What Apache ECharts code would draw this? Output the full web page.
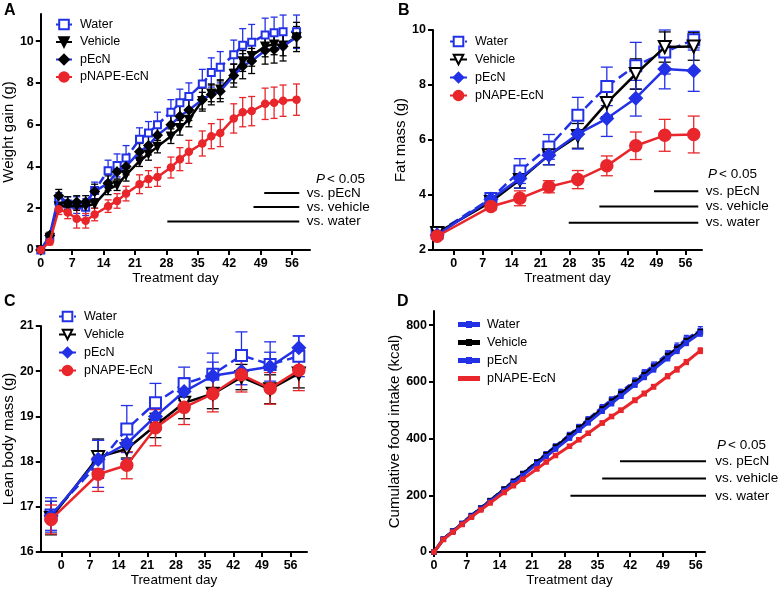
<!DOCTYPE html>
<html><head><meta charset="utf-8">
<script src="https://cdn.jsdelivr.net/npm/echarts@6/dist/echarts.min.js"></script>
<style>html,body{margin:0;padding:0;background:#fff}#c{width:784px;height:590px}</style>
</head><body><div id="c"></div>
<script>
// ---------------- DATA ----------------
const groups = ['Water', 'Vehicle', 'pEcN', 'pNAPE-EcN'];
const xTicks = [0, 7, 14, 21, 28, 35, 42, 49, 56];
const yTicksA = [0, 2, 4, 6, 8, 10];
const yTicksB = [2, 4, 6, 8, 10];
const yTicksC = [16, 17, 18, 19, 20, 21];
const yTicksD = [0, 200, 400, 600, 800];

// Panel A: weight gain (g)
const daysA = [0, 2, 4, 6, 8, 10, 12, 15, 17, 19, 22, 24, 26, 29, 31, 33, 36, 38, 40, 43, 45, 47, 50, 52, 54, 57];
const weightWater = [0, 0.6, 2.35, 2.2, 2.15, 2.05, 2.85, 3.8, 4.05, 4.4, 5.3, 5.6, 6.0, 6.6, 7.05, 7.35, 7.95, 8.5, 8.75, 9.35, 9.8, 9.95, 10.3, 10.4, 10.45, 10.45];
const weightWaterErr = [0, 0.2, 0.4, 0.35, 0.4, 0.4, 0.4, 0.5, 0.55, 0.6, 0.55, 0.55, 0.6, 0.6, 0.65, 0.65, 0.7, 0.7, 0.75, 0.7, 0.8, 0.85, 0.8, 0.75, 0.8, 0.8];
const weightVehicle = [0, 0.6, 2.1, 2.1, 2.1, 2.1, 2.2, 2.9, 3.1, 3.6, 4.25, 4.6, 4.95, 5.45, 5.85, 6.25, 7.15, 7.5, 7.7, 8.45, 9.05, 9.3, 9.75, 9.85, 9.8, 10.2];
const weightVehicleErr = [0, 0.15, 0.25, 0.2, 0.2, 0.2, 0.2, 0.25, 0.25, 0.3, 0.25, 0.3, 0.3, 0.35, 0.35, 0.35, 0.4, 0.4, 0.45, 0.45, 0.5, 0.5, 0.5, 0.5, 0.5, 0.5];
const weightPEcN = [0, 0.7, 2.6, 2.25, 2.3, 2.3, 2.8, 3.2, 3.75, 4.0, 4.7, 5.0, 5.5, 6.0, 6.4, 6.7, 7.2, 7.45, 7.6, 8.35, 8.8, 9.05, 9.55, 9.6, 9.75, 10.2];
const weightPEcNErr = [0, 0.15, 0.3, 0.3, 0.3, 0.3, 0.35, 0.35, 0.35, 0.4, 0.4, 0.45, 0.45, 0.5, 0.5, 0.5, 0.55, 0.5, 0.5, 0.55, 0.6, 0.6, 0.65, 0.65, 0.7, 0.7];
const weightNape = [0, 0.4, 1.95, 1.8, 1.5, 1.4, 1.7, 2.1, 2.35, 2.7, 3.15, 3.4, 3.5, 3.95, 4.35, 4.7, 5.1, 5.45, 5.6, 6.3, 6.6, 6.65, 7.0, 7.05, 7.15, 7.2];
const weightNapeErr = [0, 0.15, 0.25, 0.3, 0.45, 0.35, 0.3, 0.3, 0.35, 0.35, 0.45, 0.4, 0.45, 0.5, 0.55, 0.55, 0.6, 0.6, 0.65, 0.7, 0.7, 0.7, 0.75, 0.75, 0.75, 0.75];

// Panel B: fat mass (g)
const daysB = [-4, 9, 16, 23, 30, 37, 44, 51, 58];
const fatWater = [2.62, 3.87, 4.87, 5.75, 6.9, 7.95, 8.7, 9.2, 9.65];
const fatWaterErr = [0.1, 0.2, 0.45, 0.45, 0.65, 0.7, 0.85, 0.8, 0.3];
const fatVehicle = [2.62, 3.75, 4.55, 5.45, 6.15, 7.35, 8.4, 9.38, 9.4];
const fatVehicleErr = [0.1, 0.15, 0.3, 0.35, 0.45, 0.5, 0.55, 0.55, 0.5];
const fatPEcN = [2.55, 3.85, 4.6, 5.45, 6.22, 6.78, 7.52, 8.58, 8.52];
const fatPEcNErr = [0.1, 0.2, 0.35, 0.35, 0.55, 0.65, 0.65, 0.72, 0.75];
const fatNape = [2.5, 3.58, 3.88, 4.3, 4.56, 5.06, 5.79, 6.17, 6.2];
const fatNapeErr = [0.08, 0.12, 0.27, 0.22, 0.33, 0.36, 0.5, 0.58, 0.67];

// Panel C: lean body mass (g)
const daysC = [-2.5, 9, 16, 23, 30, 37, 44, 51, 58];
const leanWater = [16.82, 17.95, 18.72, 19.3, 19.72, 19.93, 20.35, 20.15, 20.33];
const leanWaterErr = [0.38, 0.52, 0.52, 0.43, 0.37, 0.47, 0.52, 0.5, 0.45];
const leanVehicle = [16.75, 18.1, 18.28, 18.8, 19.3, 19.5, 19.87, 19.6, 19.95];
const leanVehicleErr = [0.37, 0.4, 0.2, 0.27, 0.35, 0.33, 0.28, 0.32, 0.32];
const leanPEcN = [16.8, 18.05, 18.4, 19.0, 19.55, 19.9, 20.0, 20.1, 20.52];
const leanPEcNErr = [0.32, 0.42, 0.35, 0.3, 0.3, 0.3, 0.3, 0.32, 0.26];
const leanNape = [16.72, 17.72, 17.92, 18.75, 19.2, 19.5, 19.92, 19.62, 20.02];
const leanNapeErr = [0.32, 0.38, 0.3, 0.4, 0.38, 0.4, 0.38, 0.35, 0.45];

// Panel D: cumulative food intake (kcal)
const daysD = [0, 2, 4, 6, 8, 10, 12, 15, 17, 19, 22, 24, 26, 29, 31, 33, 36, 38, 40, 43, 45, 47, 50, 52, 54, 57];
const foodWater = [0, 46, 74, 101, 129, 155, 182, 222, 250, 277, 318, 346, 373, 413, 441, 468, 510, 537, 563, 603, 631, 658, 698, 724, 751, 781];
const foodWaterErr = [0, 3, 4, 4, 5, 5, 5, 6, 6, 7, 7, 8, 8, 9, 9, 9, 10, 10, 11, 11, 12, 12, 12, 13, 13, 14];
const foodVehicle = [0, 45, 73, 100, 128, 154, 181, 221, 248, 275, 316, 343, 370, 410, 437, 464, 505, 532, 558, 598, 625, 652, 692, 718, 745, 777];
const foodVehicleErr = [0, 2, 3, 3, 3, 4, 4, 4, 5, 5, 5, 6, 6, 6, 7, 7, 7, 7, 8, 8, 8, 9, 9, 9, 10, 10];
const foodPEcN = [0, 45, 72, 99, 126, 152, 178, 217, 244, 270, 310, 337, 363, 402, 429, 456, 497, 524, 550, 590, 617, 644, 684, 710, 738, 772];
const foodPEcNErr = [0, 2, 3, 3, 4, 4, 4, 5, 5, 5, 6, 6, 6, 7, 7, 7, 8, 8, 8, 9, 9, 9, 10, 10, 10, 11];
const foodNape = [0, 44, 70, 97, 123, 148, 173, 210, 234, 257, 293, 317, 340, 373, 396, 419, 455, 478, 500, 535, 559, 583, 620, 644, 670, 710];
const foodNapeErr = [0, 2, 3, 3, 3, 4, 4, 4, 5, 5, 5, 5, 6, 6, 6, 6, 7, 7, 7, 8, 8, 8, 9, 9, 9, 10];

// significance bars (P < 0.05)
const sigLabels = ['vs. pEcN', 'vs. vehicle', 'vs. water'];
const sigStartA = [49.8, 47.4, 28.2], sigEndA = 57.6, sigLevelA = [2.73, 2.06, 1.37];
const sigStartB = [48.4, 35.2, 27.8], sigEndB = 59.1, sigLevelB = [4.14, 3.58, 2.99];
const sigStartD = [39.8, 36.0, 29.2], sigEndD = 58.6, sigLevelD = [320, 259, 198];

// ---------------- STYLE / LAYOUT ----------------
const FONT = '"Liberation Sans", Arial, Helvetica, sans-serif';
const BLUE = '#2231e6', RED = '#e8262b', BLACK = '#000000';

const panels = [
  { key: 'A', grid: { left: 39, top: 14, width: 271, height: 236 }, x: [0, 60], y: [0, 11.3], yTicks: yTicksA,
    yName: 'Weight gain (g)', yGap: 15, xGap: 19, days: daysA,
    vals: [weightWater, weightVehicle, weightPEcN, weightNape], errs: [weightWaterErr, weightVehicleErr, weightPEcNErr, weightNapeErr],
    styles: [
      { symbol: 'emptyRect', size: 7, color: BLUE, line: BLUE, dash: [8, 4], width: 2.5, err: BLUE },
      { symbol: 'triangle', rotate: 180, size: 8, color: BLACK, line: BLACK, width: 2.5, err: BLACK },
      { symbol: 'diamond', size: 9, color: BLACK, line: BLUE, width: 2.5, err: BLACK },
      { symbol: 'circle', size: 7, color: RED, line: RED, width: 2.5, err: RED }],
    cap: 7, errW: 1.3,
    legend: { left: 55, top: 18, gap: 4.5, w: 16 },
    sig: { start: sigStartA, end: sigEndA, level: sigLevelA, p: [316, 172] } },
  { key: 'B', grid: { left: 433, top: 30, width: 269, height: 220 }, x: [-5, 60], y: [2, 10], yTicks: yTicksB,
    yName: 'Fat mass (g)', yGap: 21, xGap: 19, days: daysB,
    vals: [fatWater, fatVehicle, fatPEcN, fatNape], errs: [fatWaterErr, fatVehicleErr, fatPEcNErr, fatNapeErr],
    styles: [
      { symbol: 'emptyRect', size: 11, color: BLUE, line: BLUE, dash: [10, 5], width: 2.5, err: BLUE },
      { symbol: 'emptyTriangle', rotate: 180, size: 12, color: BLACK, line: BLACK, width: 2.5, err: BLACK },
      { symbol: 'diamond', size: 13, color: BLUE, line: BLUE, width: 2.5, err: BLUE },
      { symbol: 'circle', size: 12, color: RED, line: RED, width: 2.5, err: RED }],
    cap: 12, errW: 1.3,
    legend: { left: 449, top: 35, gap: 5, w: 17 },
    sig: { start: sigStartB, end: sigEndB, level: sigLevelB, p: [708, 167] } },
  { key: 'C', grid: { left: 40, top: 326, width: 267, height: 226 }, x: [-5, 60], y: [16, 21], yTicks: yTicksC,
    yName: 'Lean body mass (g)', yGap: 15, xGap: 20, days: daysC,
    vals: [leanWater, leanVehicle, leanPEcN, leanNape], errs: [leanWaterErr, leanVehicleErr, leanPEcNErr, leanNapeErr],
    styles: [
      { symbol: 'emptyRect', size: 11, color: BLUE, line: BLUE, dash: [10, 5], width: 2.5, err: BLUE },
      { symbol: 'emptyTriangle', rotate: 180, size: 12, color: BLACK, line: BLACK, width: 2.5, err: BLACK },
      { symbol: 'diamond', size: 13, color: BLUE, line: BLUE, width: 2.5, err: BLUE },
      { symbol: 'circle', size: 12, color: RED, line: RED, width: 2.5, err: RED }],
    cap: 12, errW: 1.3,
    legend: { left: 58, top: 310, gap: 5, w: 17 },
    sig: null },
  { key: 'D', grid: { left: 434, top: 311, width: 271, height: 241 }, x: [0, 58], y: [0, 850], yTicks: yTicksD,
    yName: 'Cumulative food intake (kcal)', yGap: 27, xGap: 21, days: daysD,
    vals: [foodWater, foodVehicle, foodPEcN, foodNape], errs: [foodWaterErr, foodVehicleErr, foodPEcNErr, foodNapeErr],
    styles: [
      { symbol: 'rect', size: 4, color: BLUE, line: BLUE, dash: [6, 3], width: 3, err: BLUE,
        icon: 'path://M0,5h6v3h-6z M8,4h4v5h-4z M14,5h6v3h-6z' },
      { symbol: 'rect', size: 4, color: BLACK, line: BLACK, width: 3, err: BLACK,
        icon: 'path://M0,5h8v3h-8z M8,4h4v5h-4z M12,5h8v3h-8z' },
      { symbol: 'rect', size: 4, color: BLUE, line: BLUE, width: 3, err: BLUE,
        icon: 'path://M0,5h8v3h-8z M8,4h4v5h-4z M12,5h8v3h-8z' },
      { symbol: 'rect', size: 4, color: RED, line: RED, width: 3, err: RED,
        icon: 'path://M0,5h20v3h-20z' }],
    cap: 5, errW: 1.2,
    legend: { left: 458, top: 318, gap: 5, w: 20 },
    sig: { start: sigStartD, end: sigEndD, level: sigLevelD, p: [717, 438] } }
];

// ---------------- BUILD OPTION ----------------
const grids = [], xAxes = [], yAxes = [], series = [], legends = [], graphics = [];

function errRenderer(color, cap, w) {
  return function (params, api) {
    const x = api.value(0), y = api.value(1), e = api.value(2);
    const t = api.coord([x, y + e]), b = api.coord([x, y - e]);
    const h = cap / 2;
    const st = { stroke: color, lineWidth: w };
    return { type: 'group', children: [
      { type: 'line', shape: { x1: t[0], y1: t[1], x2: b[0], y2: b[1] }, style: st },
      { type: 'line', shape: { x1: t[0] - h, y1: t[1], x2: t[0] + h, y2: t[1] }, style: st },
      { type: 'line', shape: { x1: b[0] - h, y1: b[1], x2: b[0] + h, y2: b[1] }, style: st }
    ] };
  };
}

panels.forEach((p, pi) => {
  grids.push(Object.assign({ containLabel: false }, p.grid));
  const axisCommon = {
    axisLine: { show: true, onZero: false, lineStyle: { color: BLACK, width: 2 } },
    axisTick: { show: true, length: 5, lineStyle: { color: BLACK, width: 2 } },
    axisLabel: { color: BLACK, fontWeight: 'bold', fontSize: 12.5, fontFamily: FONT, margin: 7 },
    splitLine: { show: false }
  };
  xAxes.push(echarts.util.merge({
    type: 'value', gridIndex: pi, min: p.x[0], max: p.x[1],
    name: 'Treatment day', nameLocation: 'middle', nameGap: p.xGap,
    nameTextStyle: { color: BLACK, fontSize: 13.5, fontFamily: FONT },
    axisTick: { customValues: xTicks }, axisLabel: { customValues: xTicks }
  }, axisCommon, false));
  yAxes.push(echarts.util.merge({
    type: 'value', gridIndex: pi, min: p.y[0], max: p.y[1],
    name: p.yName, nameLocation: 'middle', nameGap: p.yGap,
    nameTextStyle: { color: BLACK, fontSize: 15, fontFamily: FONT },
    axisTick: { customValues: p.yTicks }, axisLabel: { customValues: p.yTicks }
  }, axisCommon, false));

  const legendData = [];
  groups.forEach((g, gi) => {
    const s = p.styles[gi];
    const name = p.key + '|' + g;
    legendData.push(s.icon ? { name: name, icon: s.icon } : name);
    series.push({
      type: 'custom', xAxisIndex: pi, yAxisIndex: pi, silent: true, z: 2,
      renderItem: errRenderer(s.err, p.cap, p.errW),
      encode: { x: 0, y: 1 },
      data: p.days.map((d, i) => [d, p.vals[gi][i], p.errs[gi][i]])
    });
    series.push({
      name: name, type: 'line', xAxisIndex: pi, yAxisIndex: pi, z: 3 + gi,
      data: p.days.map((d, i) => [d, p.vals[gi][i]]),
      symbol: s.symbol, symbolSize: s.size, symbolRotate: s.rotate || 0, showAllSymbol: true,
      lineStyle: { color: s.line, width: s.width, type: s.dash || 'solid' },
      itemStyle: { color: s.color, borderColor: s.color, borderWidth: 1.5 },
      emphasis: { disabled: true }, animation: false
    });
  });
  legends.push({
    data: legendData, orient: 'vertical', left: p.legend.left, top: p.legend.top, padding: 0,
    itemGap: p.legend.gap, itemWidth: p.legend.w, itemHeight: 12, selectedMode: false,
    formatter: n => n.split('|')[1],
    textStyle: { color: BLACK, fontSize: 12.5, fontFamily: FONT, padding: [0, 0, 0, 3] }
  });

  if (p.sig) {
    sigLabels.forEach((lab, k) => {
      series.push({
        type: 'line', xAxisIndex: pi, yAxisIndex: pi, silent: true, z: 10,
        data: [[p.sig.start[k], p.sig.level[k]],
               { value: [p.sig.end, p.sig.level[k]],
                 label: { show: true, position: 'right', distance: 7, formatter: lab,
                          color: BLACK, fontSize: 13.5, fontFamily: FONT } }],
        symbol: 'circle', symbolSize: 1, itemStyle: { color: 'rgba(0,0,0,0)' },
        lineStyle: { color: BLACK, width: 2 }, clip: false, animation: false
      });
    });
    graphics.push({ type: 'group', left: p.sig.p[0], top: p.sig.p[1], children: [
      { type: 'text', x: 0, y: 0, style: { text: 'P', font: 'italic 13.5px ' + FONT, fill: BLACK } },
      { type: 'text', x: 11, y: 0, style: { text: '< 0.05', font: '13.5px ' + FONT, fill: BLACK } }
    ] });
  }
});

const letterPos = { A: [4, 3], B: [398, 3], C: [4, 294], D: [397, 294] };
Object.keys(letterPos).forEach(k => {
  graphics.push({ type: 'text', left: letterPos[k][0], top: letterPos[k][1],
    style: { text: k, font: 'bold 16px ' + FONT, fill: BLACK } });
});

const chart = echarts.init(document.getElementById('c'), null, { renderer: 'canvas' });
chart.setOption({
  backgroundColor: '#ffffff', animation: false,
  grid: grids, xAxis: xAxes, yAxis: yAxes, series: series, legend: legends, graphic: graphics
});
</script></body></html>
